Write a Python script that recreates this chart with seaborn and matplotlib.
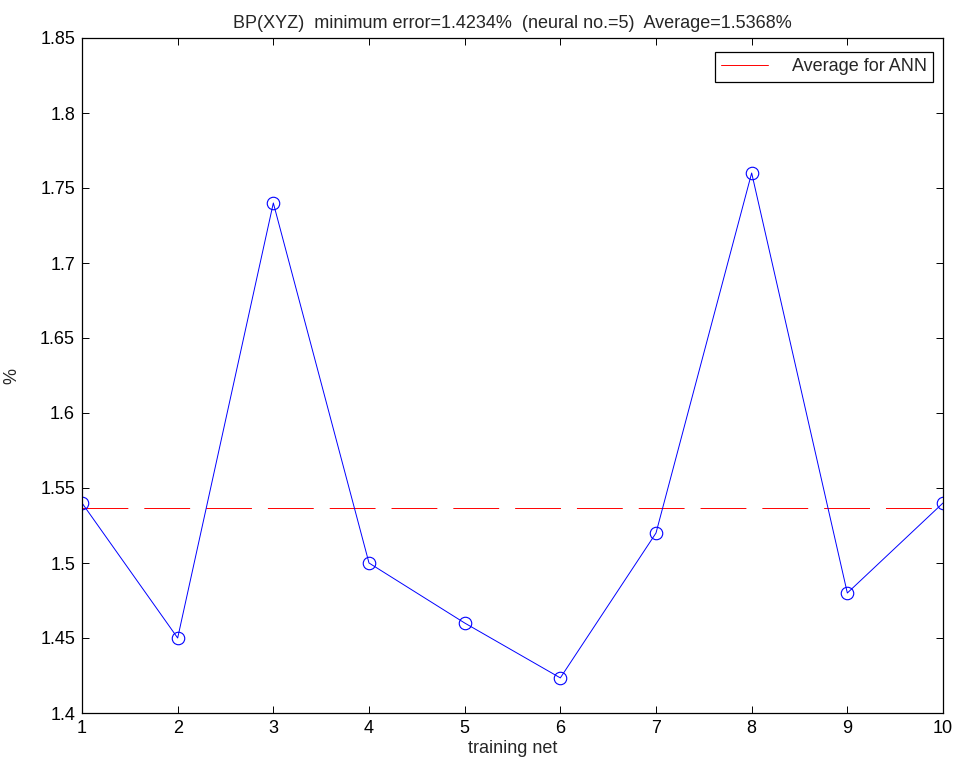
import numpy as np
import pandas as pd
import seaborn as sns
import matplotlib.pyplot as plt

# values
nets = [1, 2, 3, 4, 5, 6, 7, 8, 9, 10]
errors = [1.54, 1.45, 1.74, 1.50, 1.46, 1.4234, 1.52, 1.76, 1.48, 1.54]
average = 1.5368
y_ticks = [1.4, 1.45, 1.5, 1.55, 1.6, 1.65, 1.7, 1.75, 1.8, 1.85]
y_labels = ["1.4", "1.45", "1.5", "1.55", "1.6", "1.65", "1.7", "1.75", "1.8", "1.85"]

sns.set_style("ticks")
plt.rcParams['font.family'] = ['Liberation Sans', 'DejaVu Sans']
plt.rcParams['lines.scale_dashes'] = False

df = pd.DataFrame({"net": nets, "error": errors})
avg_df = pd.DataFrame({"net": [nets[0], nets[-1]], "avg": [average, average]})

fig = plt.figure(figsize=(9.54, 7.69), dpi=100)
ax = fig.add_axes([82 / 954, 1 - 713 / 769, (943 - 82) / 954, (713 - 38) / 769])

sns.lineplot(data=avg_df, x="net", y="avg", ax=ax, color=(1, 0, 0), linewidth=0.7,
             label="Average for ANN")
ax.lines[-1].set_dashes((33, 11.5))
sns.lineplot(data=df, x="net", y="error", ax=ax, color=(0, 0, 1), linewidth=0.7,
             marker="o", markersize=9, markerfacecolor="none", markeredgecolor=(0, 0, 1),
             markeredgewidth=0.8, legend=False)

ax.set_xlim(1, 10)
ax.set_ylim(1.4, 1.85)
ax.set_xticks(nets)
ax.set_yticks(y_ticks)
ax.set_yticklabels(y_labels)
ax.tick_params(direction="in", length=5, width=0.7, top=True, right=True,
               labelsize=13, colors="black", pad=5)
for s in ax.spines.values():
    s.set_visible(True)
    s.set_linewidth(0.9)
    s.set_color("black")

ax.set_xlabel("training net", fontsize=13, labelpad=2)
ax.set_ylabel("%", fontsize=13, labelpad=14)
ax.set_title("BP(XYZ)  minimum error=1.4234%  (neural no.=5)  Average=1.5368%",
             fontsize=13, pad=7)

leg = ax.legend(loc="upper right", bbox_to_anchor=(933 / 954, 1 - 52 / 769),
                bbox_transform=fig.transFigure, borderaxespad=0,
                fontsize=13, handlelength=2.6, handletextpad=1.3,
                borderpad=0.35, fancybox=False, framealpha=1)
leg.get_frame().set_edgecolor("black")
leg.get_frame().set_linewidth(0.9)
leg.get_lines()[0].set_linestyle("-")

fig.savefig("out.png", dpi=100)
